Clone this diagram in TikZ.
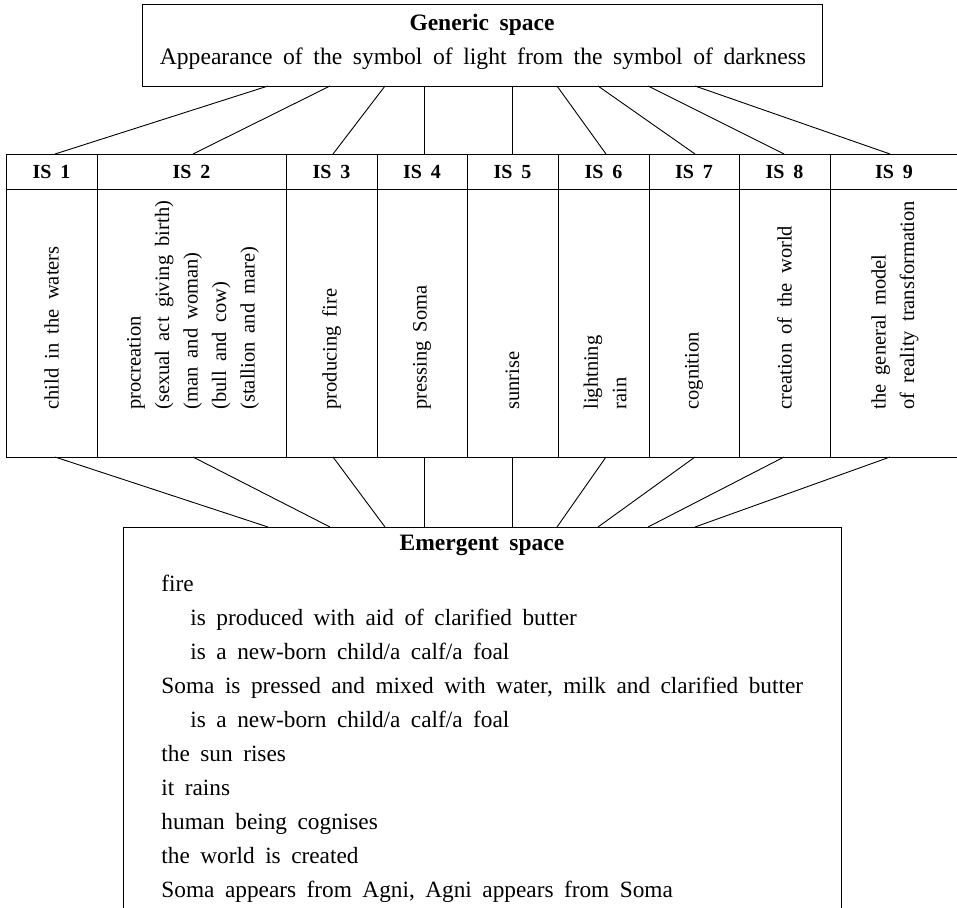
\documentclass[tikz,border=0pt]{standalone}
\usepackage{fontspec}
\setmainfont[WordSpace=1.8]{Liberation Serif}
\begin{document}
\begin{tikzpicture}[x=1pt, y=-1pt, line width=0.9pt,
  every node/.style={font=\fontsize{23.3}{28}\selectfont},
  cell/.style={draw, rectangle, inner sep=0pt, anchor=north west},
  head/.style={font=\fontsize{20}{24}\selectfont\bfseries, anchor=base},
  title/.style={font=\fontsize{23.5}{28}\selectfont\bfseries, anchor=base, inner sep=0pt},
  vtext/.style={rotate=90, anchor=west, align=left, inner sep=0pt,
    font=\fontsize{20.5}{28.5}\selectfont},
  line/.style={anchor=base west, inner sep=0pt}]
\useasboundingbox (0,0) rectangle (957,907);

% generic space
\node[cell, minimum width=680, minimum height=82] (gen) at (142,4) {};
\node[title] (gentitle) at (482,31) {Generic space};
\node[anchor=base, inner sep=0pt, font=\fontsize{23.6}{28}\selectfont] (gentext) at (483,64) {Appearance of the symbol of light from the symbol of darkness};

% input spaces: header row and body row
\foreach \i/\l/\r in {1/6/97, 2/97/286, 3/286/377, 4/377/467, 5/467/558,
                      6/558/649, 7/649/739, 8/739/830, 9/830/958} {
  \node[cell, minimum width=\r-\l, minimum height=35] (h\i) at (\l,154) {};
  \node[cell, minimum width=\r-\l, minimum height=268] (b\i) at (\l,189) {};
  \node[head] (hl\i) at ({(\l+\r)/2},178) {IS \i};
}

\node[vtext] (t1) at (51.5,410) {child in the waters};
\node[vtext] (t2) at (193,410) {procreation\\(sexual act giving birth)\\(man and woman)\\(bull and cow)\\(stallion and mare)};
\node[vtext] (t3) at (331.5,410) {producing fire};
\node[vtext] (t4) at (422,410) {pressing Soma};
\node[vtext] (t5) at (512.5,410) {sunrise};
\node[vtext] (t6) at (605,410) {lightning\\rain};
\node[vtext] (t7) at (694,410) {cognition};
\node[vtext] (t8) at (784.5,410) {creation of the world};
\node[vtext] (t9) at (895,410) {the general model\\of reality transformation};

% emergent space
\node[cell, minimum width=718, minimum height=420] (emg) at (123,527) {};
\node[title] (emgtitle) at (482,550) {Emergent space};
\node[line] (e1) at (161,591) {fire};
\node[line] (e2) at (190,625) {is produced with aid of clarified butter};
\node[line] (e3) at (190,659) {is a new-born child/a calf/a foal};
\node[line] (e4) at (161,693) {Soma is pressed and mixed with water, milk and clarified butter};
\node[line] (e5) at (190,727) {is a new-born child/a calf/a foal};
\node[line] (e6) at (161,761) {the sun rises};
\node[line] (e7) at (161,795) {it rains};
\node[line] (e8) at (161,829) {human being cognises};
\node[line] (e9) at (161,863) {the world is created};
\node[line] (e10) at (161,897) {Soma appears from Agni, Agni appears from Soma};

% attachment points on the two space boxes
\foreach \i/\x in {1/268, 2/330, 3/385, 4/424, 5/512, 6/557, 7/598, 8/648, 9/695} {
  \coordinate (g\i) at (\x,86);
  \coordinate (m\i) at (\x,527);
}
\foreach \i/\x in {1/55, 2/193, 3/333, 4/424, 5/512, 6/606, 7/695, 8/784, 9/890} {
  \coordinate (ht\i) at (\x,154);
  \coordinate (bb\i) at (\x,457);
}

% mappings
\foreach \i in {1,...,9} {
  \draw (g\i) -- (ht\i);
  \draw (bb\i) -- (m\i);
}
\end{tikzpicture}
\end{document}
